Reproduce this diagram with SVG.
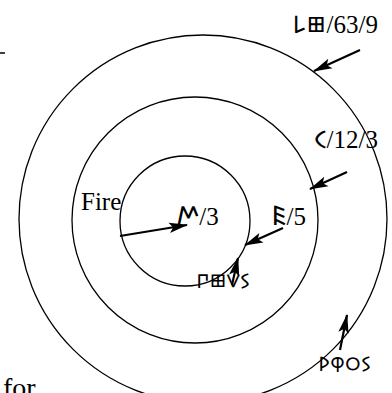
<svg xmlns="http://www.w3.org/2000/svg" width="392" height="393" viewBox="0 0 392 393">
<defs>
<marker id="ah" markerWidth="20" markerHeight="12" refX="18" refY="6" orient="auto" markerUnits="userSpaceOnUse">
<path d="M19,6 L0,0.8 L4,6 L0,11.2 Z" fill="#000"/>
</marker>
</defs>
<style>
.c{fill:none;stroke:#000;stroke-width:1.3}
.a{fill:none;stroke:#000;stroke-width:2.2;marker-end:url(#ah)}
.t{font-family:"Liberation Serif","Noto Sans Old Italic",serif;font-size:25px;fill:#000}
.o{font-family:"Noto Sans Old Italic","Liberation Sans",sans-serif;font-size:24px;fill:#000}
.w{font-family:"Noto Sans Old Italic","Liberation Sans",sans-serif;font-size:20px;fill:#000}
</style>
<rect width="392" height="393" fill="#fff"/>
<g id="outer"><circle class="c" cx="203" cy="219" r="184"/></g>
<g id="middle"><circle class="c" cx="195" cy="220" r="123"/></g>
<g id="inner"><circle class="c" cx="185" cy="221" r="65"/></g>
<g id="connectors">
<line class="a" x1="360" y1="50" x2="314" y2="71"/>
<line class="a" x1="347" y1="172" x2="310" y2="189"/>
<line class="a" x1="120" y1="236" x2="187" y2="225"/>
<line class="a" x1="283" y1="228" x2="245" y2="245"/>
<line class="a" x1="232" y1="285" x2="238" y2="258"/>
<line class="a" x1="340" y1="350" x2="347" y2="315"/>
</g>
<g id="labels">
<text class="t" x="378" y="33" text-anchor="end"><tspan class="o">𐌋𐌎</tspan>/63/9</text>
<text class="t" x="378" y="148" text-anchor="end"><tspan class="o">𐌂</tspan>/12/3</text>
<text class="t" x="81" y="210">Fire</text>
<text class="t" x="176" y="225"><tspan class="o" style="font-size:27px">𐌌</tspan>/3</text>
<text class="t" x="271" y="225"><tspan class="o" style="font-size:27px">𐌄</tspan>/5</text>
<text class="w" x="196" y="288">𐌐𐌎𐌖𐌔</text>
<text class="w" x="318" y="371">𐌓𐌘𐌏𐌔</text>
<text class="t" x="3" y="397" style="font-size:28px">for</text>
</g>
<line x1="0" y1="53" x2="5" y2="53" stroke="#000" stroke-width="1.5"/>
</svg>
